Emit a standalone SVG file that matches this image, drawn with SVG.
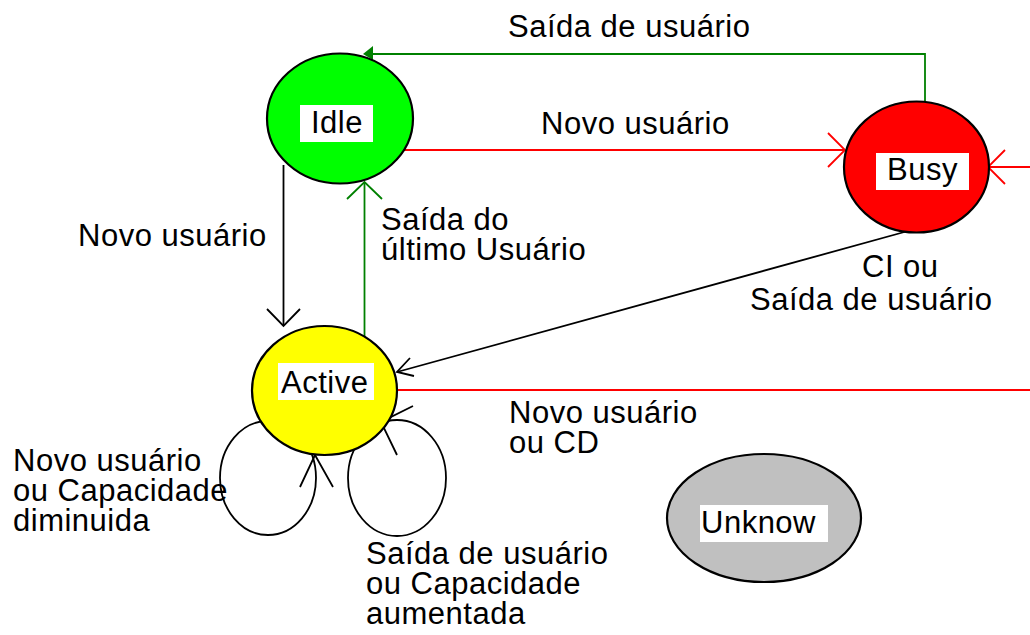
<svg xmlns="http://www.w3.org/2000/svg" width="1030" height="635" viewBox="0 0 1030 635">
<style>
text{font-family:"Liberation Sans",Arial,sans-serif;font-size:31px;letter-spacing:0.5px;fill:#000}
.node{stroke:#000;stroke-width:2.2}
.lbl{fill:#fff;stroke:none}
.k{stroke:#000;stroke-width:1.8;fill:none}
.g{stroke:#008000;stroke-width:1.8;fill:none}
.r{stroke:#ff0000;stroke-width:1.8;fill:none}
</style>
<rect width="1030" height="635" fill="#fff"/>
<g id="connectors">
<polyline class="g" points="925,101 925,54 372,54"/>
<polygon points="363,54 373,46 373,60" fill="#008000"/>
<line class="r" x1="395" y1="150" x2="845" y2="150"/>
<polyline class="r" points="828,133 845,150 828,167"/>
<line class="r" x1="1030" y1="167" x2="988" y2="167"/>
<polyline class="r" points="1005,150 988,167 1005,184"/>
<line class="r" x1="395" y1="390" x2="1030" y2="390"/>
<line class="k" x1="908" y1="231" x2="397" y2="372"/>
<polyline class="k" points="410,358 397,372 414,376"/>
<line class="k" x1="283.5" y1="165" x2="283.5" y2="326"/>
<polyline class="k" points="267,309 283.5,326 300,309"/>
<line class="g" x1="364.5" y1="337" x2="364.5" y2="182"/>
<polyline class="g" points="347,199 364.5,182 382,199"/>
<ellipse class="k" cx="268" cy="478" rx="48" ry="57"/>
<polyline class="k" points="300,487 315,455 333,487"/>
<ellipse class="k" cx="397" cy="478" rx="49" ry="58"/>
<polyline class="k" points="413,406 381,422 397,455"/>
</g>
<g id="idle">
<ellipse class="node" cx="340" cy="118.5" rx="73" ry="65" fill="#00ff00"/>
<rect class="lbl" x="300" y="105" width="73" height="37"/>
<text x="311" y="133">Idle</text>
</g>
<g id="busy">
<ellipse class="node" cx="916.5" cy="167" rx="72.5" ry="65.5" fill="#ff0000"/>
<rect class="lbl" x="876" y="153" width="93" height="37"/>
<text x="887" y="180">Busy</text>
</g>
<g id="active">
<ellipse class="node" cx="324.5" cy="390.5" rx="72.5" ry="64.5" fill="#ffff00"/>
<rect class="lbl" x="278" y="363" width="96" height="37"/>
<text x="281" y="393">Active</text>
</g>
<g id="unknow">
<ellipse class="node" cx="764" cy="518" rx="97" ry="64" fill="#c0c0c0"/>
<rect class="lbl" x="700" y="505" width="128" height="37"/>
<text x="701" y="533">Unknow</text>
</g>
<g id="labels">
<text x="508" y="37">Saída de usuário</text>
<text x="541" y="134">Novo usuário</text>
<text x="78" y="246">Novo usuário</text>
<text x="381" y="230">Saída do</text>
<text x="381" y="260">último Usuário</text>
<text x="862" y="277">CI ou</text>
<text x="750" y="310">Saída de usuário</text>
<text x="509" y="423">Novo usuário</text>
<text x="509" y="453">ou CD</text>
<text x="13" y="471">Novo usuário</text>
<text x="13" y="501">ou Capacidade</text>
<text x="13" y="531">diminuida</text>
<text x="366" y="564">Saída de usuário</text>
<text x="366" y="594">ou Capacidade</text>
<text x="366" y="624">aumentada</text>
</g>
</svg>
